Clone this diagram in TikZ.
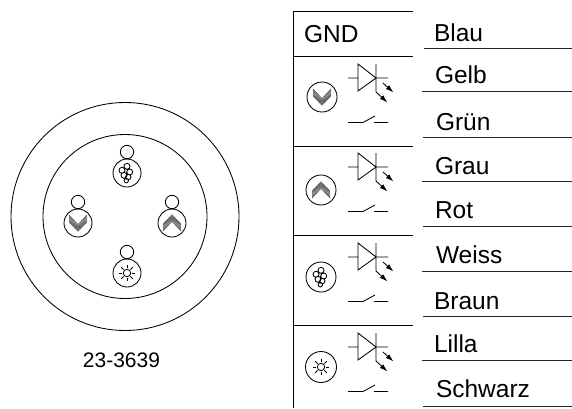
\documentclass[tikz,border=0pt]{standalone}
\usepackage{fontspec}
\setmainfont{Liberation Sans}
\usetikzlibrary{arrows.meta}
\tikzset{
  lbl/.style={anchor=base west,inner sep=0pt,outer sep=0pt,font=\fontsize{24.5}{28}\selectfont},
  ln/.style={draw=black,line width=0.85pt},
  rule/.style={draw=black!85,line width=1pt},
  arr/.style={draw=black,line width=0.85pt,-{Latex[length=8pt,width=5pt]}},
  hatch/.style={draw=black!80,line width=0.42pt},
  down/.pic={\foreach \i in {0,1.15,...,7}{\draw[hatch] (-9,-8+\i)--(0,1.5+\i)--(9,-8+\i);}},
  up/.pic={\foreach \i in {0,1.15,...,7}{\draw[hatch] (-9,8-\i)--(0,-1.5-\i)--(9,8-\i);}},
  grape/.pic={\draw[ln] (0,-6.7) circle (3) (-5,-2.7) circle (3) (2.7,-1) circle (3)
     (-3,2.3) circle (3) (1.3,4) circle (2.7) (-.7,7.7) circle (2.2);},
  sun/.pic={\draw[ln] (0,0) circle (3.7);
     \foreach \a in {0,45,...,315}{\draw[ln] (\a:4.8) -- (\a:8.2);}},
  led/.pic={
    \draw[ln] (-11,0)--(-1,0) (-1,-14)--(-1,13)--(17,0)--cycle (17,-14)--(17,14) (17,0)--(29,0);
    \draw[arr] (17,14)--(28.5,24.5);
    \draw[arr] (24,5)--(34.5,14.5);
    \draw[ln] (-11,44.5)--(4,44.5)--(16,38) (15,44.5)--(29,44.5);
  },
}
\begin{document}
\begin{tikzpicture}[x=1pt,y=-1pt]
\useasboundingbox (0,0) rectangle (572,408);
% connector face
\draw[ln] (125,216.5) circle (114);
\draw[ln] (125,216.5) circle (82);
\foreach \x/\y/\p in {127/173/grape,78/223/down,172/223/up,127/273/sun}{
  \draw[ln] (\x,\y) circle (14);
  \draw[ln] (\x,\y-21) circle (6.7);
  \pic at (\x,\y) {\p};
}
\node[lbl,font=\fontsize{21}{24}\selectfont,anchor=base] (code) at (121.5,367) {23-3639};
% table
\draw[ln] (293,11)--(293,408);
\foreach \y in {11,56,146,235,325}{\draw[ln] (293,\y)--(413,\y);}
\node[lbl] (gnd) at (304,42) {GND};
\foreach \dy/\cx/\cy/\p/\r in {78/322/97/down/15,167/321/190/up/15,257/321/277/grape/15,347/321/367/sun/15.5}{
  \draw[ln] (\cx,\cy) circle (\r);
  \pic at (\cx,\cy) {\p};
  \pic at (359,\dy) {led};
}
% wire colours
\foreach \t/\x/\b/\l/\s in {Blau/434/41/48/424,Gelb/435/83/91/422,Grün/436/130/137/423,Grau/435/174/181/422,Rot/435/218/226/423,Weiss/436/263/271/422,Braun/434/309/316/423,Lilla/434/352/360/422,Schwarz/436/397/406/423}{
  \node[lbl] at (\x,\b) {\t};
  \draw[rule] (\s,\l)--(572,\l);
}
\end{tikzpicture}
\end{document}
